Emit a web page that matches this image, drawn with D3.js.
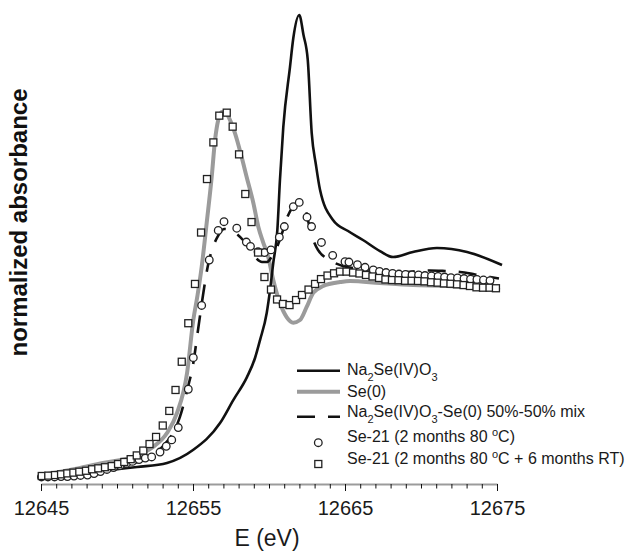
<!DOCTYPE html>
<meta charset="utf-8">
<style>
    body { margin: 0; background: #fff; }
    svg { display: block; font-family: "Liberation Sans", Arial, sans-serif; }
</style>
<svg width="627" height="552"></svg>
<script src="https://d3js.org/d3.v7.min.js"></script>

<script>
    // Na2Se(IV)O3 reference
    var naE = [12645.00, 12648.03, 12651.32, 12653.29, 12655.00, 12656.78, 12657.65, 12658.55, 12659.08, 12659.41,
        12659.85, 12660.07, 12660.28, 12660.55, 12660.72, 12660.94, 12661.38, 12661.60, 12661.99, 12662.27,
        12662.55, 12662.81, 12663.09, 12663.36, 12664.21, 12665.20, 12666.18, 12667.30, 12668.16, 12669.47,
        12671.05, 12673.03, 12675.33];
    var naA = [0.005, 0.021, 0.048, 0.070, 0.139, 0.283, 0.406, 0.529, 0.631, 0.727,
        0.872, 0.995, 1.139, 1.316, 1.583, 1.866, 2.187, 2.342, 2.465, 2.358,
        2.225, 1.834, 1.663, 1.529, 1.369, 1.310, 1.262, 1.203, 1.171, 1.198,
        1.219, 1.198, 1.128];

    // Se(0) reference
    var seE = [12645.00, 12646.91, 12649.08, 12651.05, 12652.37, 12653.29, 12653.95, 12654.61, 12655.02, 12655.30,
        12655.57, 12655.90, 12656.23, 12656.45, 12656.66, 12656.89, 12657.11, 12657.43, 12657.76, 12658.20,
        12658.53, 12658.97, 12659.30, 12659.61, 12659.95, 12660.28, 12660.72, 12661.16, 12661.60, 12662.04,
        12662.48, 12662.91, 12663.57, 12664.67, 12665.33, 12667.30, 12669.47, 12671.71, 12675.20];
    var seA = [0.005, 0.032, 0.070, 0.102, 0.155, 0.230, 0.337, 0.551, 0.834, 0.968,
        1.118, 1.353, 1.599, 1.797, 1.904, 1.947, 1.947, 1.904, 1.834, 1.706,
        1.599, 1.460, 1.332, 1.251, 1.171, 1.048, 0.925, 0.850, 0.820, 0.834,
        0.904, 0.979, 1.016, 1.037, 1.043, 1.032, 1.021, 1.016, 0.995];

    // 50%-50% mix
    var mixE = [12645.00, 12646.91, 12648.88, 12650.20, 12651.51, 12652.37, 12653.03, 12653.68, 12654.14, 12654.67,
        12655.00, 12655.33, 12655.66, 12655.99, 12656.32, 12656.64, 12657.04, 12657.43, 12657.89, 12658.29,
        12658.75, 12659.14, 12659.54, 12659.87, 12660.20, 12660.53, 12660.86, 12661.18, 12661.58, 12661.97,
        12662.37, 12662.76, 12663.22, 12663.75, 12664.34, 12665.13, 12666.32, 12667.50, 12668.62, 12669.74,
        12670.59, 12671.58, 12672.57, 12673.55, 12674.54, 12675.13];
    var mixA = [0.000, 0.016, 0.032, 0.048, 0.080, 0.112, 0.160, 0.230, 0.316, 0.476,
        0.594, 0.781, 0.968, 1.128, 1.225, 1.283, 1.321, 1.316, 1.294, 1.262,
        1.209, 1.166, 1.144, 1.144, 1.176, 1.225, 1.299, 1.380, 1.439, 1.460,
        1.428, 1.299, 1.209, 1.166, 1.139, 1.118, 1.107, 1.096, 1.088, 1.096,
        1.099, 1.096, 1.091, 1.078, 1.064, 1.056];

    // Se-21 (2 months 80 C) - circles
    var circE = [12645.03, 12645.46, 12645.89, 12646.32, 12646.74, 12647.17, 12647.60, 12648.06, 12648.49, 12648.91,
        12649.34, 12649.77, 12650.20, 12650.63, 12651.02, 12651.45, 12651.86, 12652.28, 12652.83, 12653.24,
        12653.60, 12654.03, 12654.69, 12655.02, 12655.57, 12656.07, 12656.66, 12657.04, 12657.88, 12658.51,
        12658.78, 12659.28, 12659.70, 12660.13, 12660.68, 12661.01, 12661.60, 12661.99, 12662.50, 12662.80,
        12663.45, 12664.19, 12665.00, 12665.26, 12665.82, 12666.32, 12666.86, 12667.27, 12667.70, 12668.13,
        12668.55, 12668.98, 12669.41, 12669.84, 12670.26, 12670.69, 12671.12, 12671.55, 12671.97, 12672.40,
        12672.83, 12673.26, 12673.68, 12674.11, 12674.54];
    var circA = [-0.005, -0.005, -0.005, -0.003, -0.003, 0.000, 0.003, 0.005, 0.013, 0.024,
        0.035, 0.045, 0.056, 0.067, 0.078, 0.088, 0.096, 0.102, 0.128, 0.159,
        0.193, 0.259, 0.464, 0.633, 0.912, 1.155, 1.313, 1.360, 1.325, 1.251,
        1.228, 1.199, 1.195, 1.209, 1.277, 1.334, 1.440, 1.463, 1.384, 1.334,
        1.249, 1.180, 1.146, 1.144, 1.130, 1.116, 1.102, 1.094, 1.088, 1.083,
        1.080, 1.078, 1.075, 1.075, 1.072, 1.070, 1.067, 1.064, 1.061, 1.059,
        1.056, 1.053, 1.051, 1.048, 1.045];

    // Se-21 (2 months 80 C + 6 months RT) - squares
    var sqE = [12645.05, 12645.48, 12645.92, 12646.32, 12646.73, 12647.13, 12647.52, 12647.96, 12648.36, 12648.77,
        12649.21, 12649.65, 12650.07, 12650.48, 12650.90, 12651.30, 12651.73, 12652.14, 12652.57, 12653.01,
        12653.44, 12653.85, 12654.26, 12654.69, 12655.13, 12655.53, 12655.92, 12656.34, 12656.73, 12657.22,
        12657.61, 12658.03, 12658.44, 12658.85, 12659.28, 12659.70, 12660.13, 12660.53, 12660.92, 12661.35,
        12661.78, 12662.17, 12662.60, 12663.03, 12663.42, 12663.85, 12664.28, 12664.67, 12665.10, 12665.53,
        12665.95, 12666.38, 12666.81, 12667.24, 12667.66, 12668.09, 12668.52, 12668.95, 12669.38, 12669.80,
        12670.23, 12670.66, 12671.09, 12671.51, 12671.94, 12672.37, 12672.80, 12673.22, 12673.65, 12674.08,
        12674.51, 12674.93];
    var sqA = [0.000, 0.002, 0.005, 0.009, 0.014, 0.018, 0.023, 0.028, 0.036, 0.041,
        0.047, 0.053, 0.064, 0.075, 0.090, 0.110, 0.136, 0.171, 0.209, 0.270,
        0.348, 0.460, 0.611, 0.817, 1.027, 1.302, 1.588, 1.784, 1.927, 1.943,
        1.868, 1.720, 1.508, 1.358, 1.195, 1.064, 0.997, 0.944, 0.920, 0.914,
        0.941, 0.968, 0.997, 1.027, 1.053, 1.072, 1.084, 1.093, 1.093, 1.088,
        1.083, 1.075, 1.067, 1.059, 1.051, 1.048, 1.047, 1.044, 1.044, 1.043,
        1.041, 1.036, 1.034, 1.030, 1.028, 1.025, 1.021, 1.016, 1.009, 1.007,
        1.007, 1.004];

    var majorTicks = [12645, 12655, 12665, 12675];
</script>

<script>
    function pairs(xs, ys) {
        return xs.map(function (e, i) { return [e, ys[i]]; });
    }

    var svg = d3.select("svg");
    var x = d3.scaleLinear().domain([12645, 12675]).range([41, 497]);
    var y = d3.scaleLinear().domain([0, 2.5]).range([476, 8.5]);
    var axisY = 484;

    var line = d3.line()
        .x(function (d) { return x(d[0]); })
        .y(function (d) { return y(d[1]); })
        .curve(d3.curveMonotoneX);

    // x axis: minor ticks every 1 eV, then the labelled ones
    var minor = svg.append("g")
        .attr("transform", "translate(0," + axisY + ")")
        .call(d3.axisBottom(x).tickValues(d3.range(12645, 12676, 1)).tickSize(4.5).tickSizeOuter(0).tickFormat(""));
    minor.select(".domain").attr("stroke", "#9b9b9b").attr("stroke-width", 2);
    minor.selectAll(".tick line").attr("stroke", "#111").attr("stroke-width", 1);

    var major = svg.append("g")
        .attr("transform", "translate(0," + axisY + ")")
        .call(d3.axisBottom(x).tickValues(majorTicks).tickSize(7).tickSizeOuter(0).tickPadding(10).tickFormat(d3.format("d")));
    major.select(".domain").remove();
    major.selectAll(".tick line").attr("stroke", "#111").attr("stroke-width", 1);
    major.selectAll(".tick text")
        .attr("fill", "#1a1a1a")
        .style("font-size", "20px")
        .style("font-family", "'Liberation Sans', Arial, sans-serif");

    svg.append("text")
        .attr("x", 267).attr("y", 546)
        .attr("text-anchor", "middle")
        .attr("fill", "#1a1a1a")
        .style("font-size", "23px")
        .text("E (eV)");

    svg.append("text")
        .attr("transform", "translate(27,222.5) rotate(-90)")
        .attr("text-anchor", "middle")
        .attr("fill", "#111")
        .style("font-size", "24px")
        .style("font-weight", "bold")
        .text("normalized absorbance");

    // curves
    svg.append("path")
        .attr("d", line(pairs(seE, seA)))
        .attr("fill", "none").attr("stroke", "#9b9b9b").attr("stroke-width", 4);
    svg.append("path")
        .attr("d", line(pairs(naE, naA)))
        .attr("fill", "none").attr("stroke", "#111").attr("stroke-width", 2.6);
    svg.append("path")
        .attr("d", line(pairs(mixE, mixA)))
        .attr("fill", "none").attr("stroke", "#111").attr("stroke-width", 2.6)
        .attr("stroke-dasharray", "18,13");

    // measured samples
    svg.append("g").selectAll("circle")
        .data(pairs(circE, circA))
        .enter().append("circle")
        .attr("cx", function (d) { return x(d[0]); })
        .attr("cy", function (d) { return y(d[1]); })
        .attr("r", 3.8)
        .attr("fill", "#fff").attr("stroke", "#222").attr("stroke-width", 1.3);

    svg.append("g").selectAll("rect")
        .data(pairs(sqE, sqA))
        .enter().append("rect")
        .attr("x", function (d) { return x(d[0]) - 3.5; })
        .attr("y", function (d) { return y(d[1]) - 3.5; })
        .attr("width", 7).attr("height", 7)
        .attr("fill", "#fff").attr("stroke", "#222").attr("stroke-width", 1.3);

    // legend
    var lg = svg.append("g").style("font-size", "16px").attr("fill", "#1a1a1a");
    lg.append("line").attr("x1", 297).attr("x2", 340).attr("y1", 370.7).attr("y2", 370.7)
        .attr("stroke", "#111").attr("stroke-width", 2.6);
    lg.append("line").attr("x1", 297).attr("x2", 340).attr("y1", 391.7).attr("y2", 391.7)
        .attr("stroke", "#9b9b9b").attr("stroke-width", 4);
    lg.append("line").attr("x1", 297).attr("x2", 340).attr("y1", 416.7).attr("y2", 416.7)
        .attr("stroke", "#111").attr("stroke-width", 2.6).attr("stroke-dasharray", "18,13");
    lg.append("circle").attr("cx", 318.3).attr("cy", 442.7).attr("r", 3.8)
        .attr("fill", "#fff").attr("stroke", "#222").attr("stroke-width", 1.3);
    lg.append("rect").attr("x", 314.8).attr("y", 460.5).attr("width", 7).attr("height", 7)
        .attr("fill", "#fff").attr("stroke", "#222").attr("stroke-width", 1.3);

    function subText(t, parts, yb) {
        var el = lg.append("text").attr("x", 347).attr("y", yb);
        parts.forEach(function (p) {
            var ts = el.append("tspan").text(p[0]);
            if (p[1] === "sub") ts.attr("font-size", "11px").attr("baseline-shift", "sub");
            if (p[1] === "sup") ts.attr("font-size", "11px").attr("baseline-shift", "super");
        });
    }
    subText(lg, [["Na"], ["2", "sub"], ["Se(IV)O"], ["3", "sub"]], 375);
    subText(lg, [["Se(0)"]], 397);
    subText(lg, [["Na"], ["2", "sub"], ["Se(IV)O"], ["3", "sub"], ["-Se(0) 50%-50% mix"]], 417);
    subText(lg, [["Se-21 (2 months 80 "], ["o", "sup"], ["C)"]], 442);
    subText(lg, [["Se-21 (2 months 80 "], ["o", "sup"], ["C + 6 months RT)"]], 464);
</script>
